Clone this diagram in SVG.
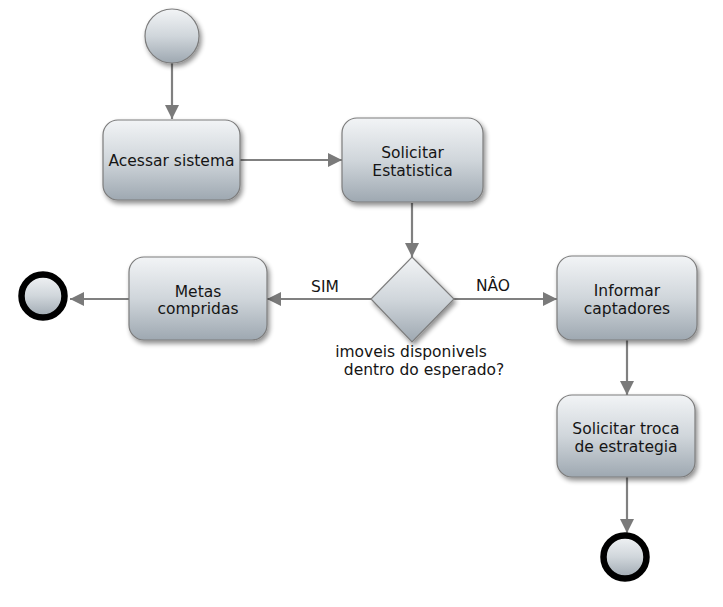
<svg xmlns="http://www.w3.org/2000/svg" width="723" height="607" viewBox="0 0 723 607">
<defs>
<linearGradient id="g" x1="0" y1="0" x2="0" y2="1">
<stop offset="0" stop-color="#f2f4f6"/>
<stop offset="0.5" stop-color="#d0d6db"/>
<stop offset="1" stop-color="#9ea8b1"/>
</linearGradient>
<filter id="sh" x="-20%" y="-20%" width="140%" height="150%">
<feGaussianBlur in="SourceAlpha" stdDeviation="2.5"/>
<feOffset dx="2" dy="3" result="b"/>
<feComponentTransfer><feFuncA type="linear" slope="0.45"/></feComponentTransfer>
<feMerge><feMergeNode/><feMergeNode in="SourceGraphic"/></feMerge>
</filter>
<marker id="ah" viewBox="0 0 14 14" refX="14" refY="7" markerWidth="14" markerHeight="14" markerUnits="userSpaceOnUse" orient="auto">
<path d="M0,0 L14,7 L0,14 Z" fill="#7a7a7a"/>
</marker>
</defs>
<style>
.n{fill:url(#g);stroke:#7c7c7c;stroke-width:1.2;filter:url(#sh)}
.t{font-family:"DejaVu Sans",Verdana,sans-serif;font-size:15.5px;fill:#151515;text-anchor:middle}
.c{stroke:#808080;stroke-width:2.2;fill:none;marker-end:url(#ah)}
.e{fill:url(#g);stroke:#000;stroke-width:6.5}
</style>
<rect width="723" height="607" fill="#fff"/>
<g id="connectors">
<line class="c" x1="172" y1="63" x2="172" y2="119"/>
<line class="c" x1="240" y1="160" x2="342" y2="160"/>
<line class="c" x1="412" y1="203" x2="412" y2="257"/>
<line class="c" x1="371" y1="299" x2="267" y2="299"/>
<line class="c" x1="454" y1="299" x2="557" y2="299"/>
<line class="c" x1="129" y1="299" x2="70" y2="299"/>
<line class="c" x1="627" y1="340" x2="627" y2="395"/>
<line class="c" x1="627" y1="477" x2="627" y2="533"/>
<text class="t" x="325" y="292">SIM</text>
<text class="t" x="493" y="291">NÂO</text>
</g>
<g id="start"><circle cx="172" cy="36" r="27" fill="url(#g)" stroke="#7c7c7c" stroke-width="1.2" filter="url(#sh)"/></g>
<g id="acessar"><rect class="n" x="103" y="120" width="137" height="80" rx="15"/><text class="t" x="171.5" y="166">Acessar sistema</text></g>
<g id="solicitar"><rect class="n" x="342" y="118" width="141" height="84" rx="15"/><text class="t" x="412.5" y="158">Solicitar</text><text class="t" x="412.5" y="176">Estatistica</text></g>
<g id="decisao"><polygon class="n" points="412,257 454,299 412,342 371,299"/><text class="t" x="411" y="357">imoveis disponivels</text><text class="t" x="424" y="375">dentro do esperado?</text></g>
<g id="metas"><rect class="n" x="129" y="257" width="138" height="83" rx="15"/><text class="t" x="198" y="297">Metas</text><text class="t" x="198" y="314">compridas</text></g>
<g id="fim1"><circle class="e" cx="43" cy="296" r="21.5"/></g>
<g id="informar"><rect class="n" x="557" y="256" width="140" height="84" rx="15"/><text class="t" x="627" y="296">Informar</text><text class="t" x="627" y="314">captadores</text></g>
<g id="troca"><rect class="n" x="557" y="395" width="138" height="82" rx="15"/><text class="t" x="626" y="434">Solicitar troca</text><text class="t" x="626" y="452">de estrategia</text></g>
<g id="fim2"><circle class="e" cx="625" cy="557" r="21.5"/></g>
</svg>
